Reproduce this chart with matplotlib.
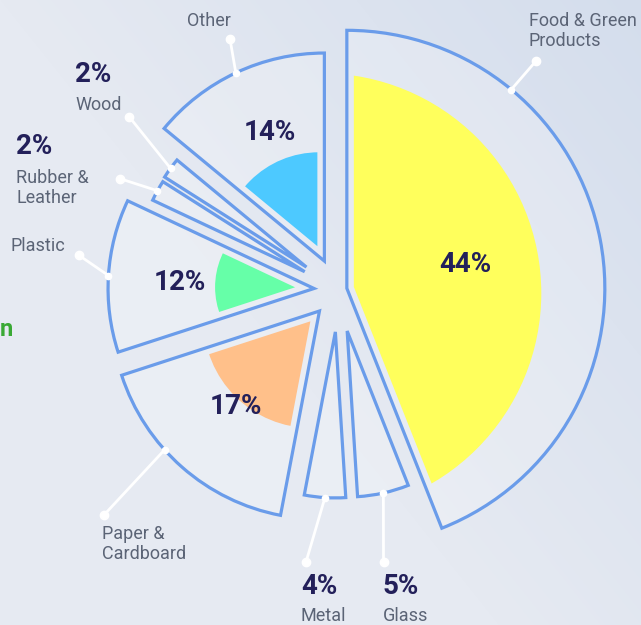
import numpy as np
import matplotlib
matplotlib.use("Agg")
import matplotlib.pyplot as plt
from matplotlib.patches import Wedge, Circle
from matplotlib.colors import to_rgb

# ---- data ----
categories = ["Food & Green\nProducts", "Glass", "Metal", "Paper &\nCardboard",
              "Plastic", "Rubber &\nLeather", "Wood", "Other"]
shares = [44, 5, 4, 17, 12, 2, 2, 14]
fill_colors = ["#ffff5c", None, None, "#ffc08a", "#66ffa8", None, None, "#4dc9ff"]

# ---- layout (pixel units, y pointing down) ----
centre = np.array([338.0, 290.0])
explode = [9, 42, 42, 28, 24, 38, 39, 32]
outer_r = [258, 166, 166, 208, 206, 168, 168, 208]
fill_shift = [-17, 0, 0, 40, 45, 0, 0, 45]
fill_r = [220, 0, 0, 108, 78, 0, 0, 97]
inset = 7
link_frac = [0.25, 0.5, 0.5, 0.61, 0.5, 0.5, 0.5, 0.5]
label_dot = [(536, 61), (383.5, 562), (306, 562), (104, 515),
             (78.5, 255), (119.5, 178.5), (129, 116.5), (230, 39)]
pct_pos = [(465, 265, "center"), (383, 587, "left"), (301, 587, "left"), (236, 406, "center"),
           (180, 282, "center"), (16, 147, "left"), (75, 75, "left"), (270, 133, "center")]
name_pos = [(529, 31, "left"), (383, 616, "left"), (301, 616, "left"), (102, 544, "left"),
            (10, 246, "left"), (16, 188, "left"), (75, 105, "left"), (209, 21, "center")]

line_col = "#6a9cea"
pct_col = "#23205a"
name_col = "#5b6476"

def direction(deg):
    a = np.radians(deg)
    return np.array([np.cos(a), np.sin(a)])

W, H = 641, 625
fig = plt.figure(figsize=(W / 100, H / 100), dpi=100)
ax = fig.add_axes([0, 0, 1, 1])
ax.set_xlim(0, W)
ax.set_ylim(H, 0)
ax.axis("off")

# soft sky background
yy, xx = np.mgrid[0:H, 0:W]
w = np.clip((xx / W) * 0.9 + (1 - yy / H) * 0.7 - 0.7, 0, 1)[..., None]
base = np.array(to_rgb("#e6eaf2"))
blue = np.array(to_rgb("#d2dcec"))
bg = base * (1 - w) + blue * w
ax.imshow(bg, extent=(0, W, H, 0), aspect="auto", zorder=0)

cum = np.concatenate([[0], np.cumsum(shares)])
for i, name in enumerate(categories):
    t1 = 3.6 * cum[i] - 90
    t2 = 3.6 * cum[i + 1] - 90
    mid = (t1 + t2) / 2
    half = (t2 - t1) / 2
    apex = centre + explode[i] * direction(mid)

    ax.add_patch(Wedge(apex, outer_r[i], t1, t2, facecolor=(1, 1, 1, 0.2),
                       edgecolor=line_col, lw=2.3, joinstyle="miter", zorder=2))

    if fill_colors[i] is not None:
        inner_apex = apex + inset / np.sin(np.radians(half)) * direction(mid)
        clip = Wedge(inner_apex, outer_r[i] - inset, t1, t2, transform=ax.transData)
        disc = Circle(centre + fill_shift[i] * direction(mid), fill_r[i],
                      facecolor=fill_colors[i], edgecolor="none", zorder=3)
        ax.add_patch(disc)
        disc.set_clip_path(clip)

    # connector from label to the slice rim
    a = t1 + link_frac[i] * (t2 - t1)
    rim = apex + outer_r[i] * direction(a)
    dx, dy = label_dot[i]
    ax.plot([dx, rim[0]], [dy, rim[1]], color="white", lw=2, solid_capstyle="round", zorder=4)
    ax.plot([dx], [dy], "o", color="white", ms=6, zorder=5)
    ax.plot([rim[0]], [rim[1]], "o", color="white", ms=4.5, zorder=5)

    px, py, pha = pct_pos[i]
    ax.text(px, py, f"{shares[i]}%", ha=pha, va="center", fontsize=20, fontweight="bold",
            color=pct_col, family="Roboto", zorder=6)
    nx, ny, nha = name_pos[i]
    ax.text(nx, ny, name, ha=nha, va="center", fontsize=13, color=name_col,
            family="Roboto", linespacing=1.2, zorder=6)

# heading fragment on the left edge
ax.text(0, 329, "n", ha="left", va="center", fontsize=17, fontweight="bold",
        color="#3aa935", family="Roboto", zorder=6)

fig.savefig("out.png", dpi=100)
